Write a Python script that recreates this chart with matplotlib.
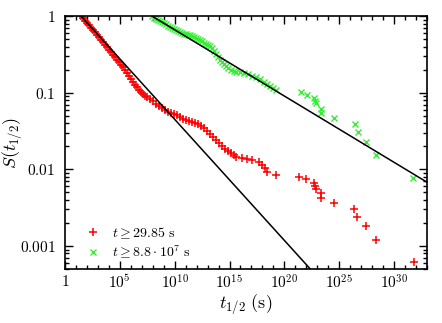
import numpy as np
import matplotlib.pyplot as plt
from matplotlib.ticker import FixedLocator, NullFormatter

plt.rcParams['mathtext.fontset'] = 'cm'
plt.rcParams['font.family'] = ['DejaVu Serif']

# --- data (log10 values) ---
log_t_red = [1.475, 1.636, 1.818, 2.0, 2.182, 2.364, 2.545, 2.727, 2.909, 3.091,
             3.273, 3.455, 3.636, 3.818, 4.0, 4.182, 4.364, 4.545, 4.727, 4.909,
             5.091, 5.273, 5.455, 5.636, 5.818, 6.0, 6.182, 6.364, 6.545, 6.727,
             6.909, 7.091, 7.273, 7.455, 7.727, 8.0, 8.273, 8.545, 8.818, 9.091,
             9.364, 9.636, 9.909, 10.182, 10.455, 10.727, 11.0, 11.273, 11.545, 11.818,
             12.091, 12.364, 12.636, 12.909, 13.182, 13.455, 13.727, 14.0, 14.273, 14.545,
             14.818, 15.091, 15.364, 15.636,
             16.182, 16.636, 17.091, 17.727, 18.0, 18.273, 18.455, 19.273, 21.364, 22.0,
             22.727, 22.818, 22.909, 23.364, 23.364, 24.545, 26.364, 26.636, 27.455, 28.364,
             31.818]
log_s_red = [0.0, -0.026, -0.065, -0.091, -0.117, -0.156, -0.183, -0.209, -0.248, -0.274,
             -0.313, -0.339, -0.378, -0.404, -0.443, -0.469, -0.508, -0.535, -0.574, -0.600,
             -0.639, -0.665, -0.704, -0.743, -0.782, -0.821, -0.861, -0.900, -0.926, -0.965,
             -0.991, -1.017, -1.043, -1.056, -1.082, -1.108, -1.147, -1.173, -1.199, -1.226,
             -1.252, -1.265, -1.278, -1.291, -1.317, -1.343, -1.356, -1.369, -1.382, -1.395,
             -1.408, -1.434, -1.460, -1.499, -1.538, -1.578, -1.617, -1.656, -1.695, -1.734,
             -1.760, -1.786, -1.812, -1.838,
             -1.851, -1.864, -1.877, -1.904, -1.943, -1.982, -2.034, -2.073, -2.099, -2.125,
             -2.177, -2.216, -2.256, -2.308, -2.373, -2.438, -2.516, -2.621, -2.738, -2.920,
             -3.207]

log_t_green = [7.944, 8.091, 8.273, 8.455, 8.636, 8.818, 9.0, 9.182, 9.364, 9.545,
               9.727, 9.909, 10.091, 10.273, 10.455, 10.636, 10.818, 11.0, 11.182, 11.364,
               11.545, 11.727, 11.909, 12.091, 12.273, 12.455, 12.636, 12.818, 13.0, 13.182,
               13.364, 13.545, 13.727, 13.909, 14.091, 14.273, 14.455, 14.636, 14.818, 15.091,
               15.364, 15.636, 16.0, 16.364, 16.727, 17.091, 17.455, 17.818, 18.182, 18.455,
               18.727, 19.0, 19.273,
               21.545, 22.091, 22.727, 22.818, 22.909, 23.364, 23.364, 24.545, 26.455, 26.727,
               27.455, 28.364, 31.727]
log_s_green = [0.0, -0.026, -0.039, -0.052, -0.065, -0.078, -0.091, -0.104, -0.130, -0.143,
               -0.156, -0.169, -0.183, -0.196, -0.209, -0.222, -0.235, -0.235, -0.248, -0.248,
               -0.261, -0.274, -0.287, -0.300, -0.313, -0.326, -0.352, -0.365, -0.378, -0.391,
               -0.417, -0.456, -0.495, -0.535, -0.574, -0.600, -0.626, -0.652, -0.678, -0.704,
               -0.717, -0.730, -0.730, -0.743, -0.756, -0.782, -0.795, -0.821, -0.861, -0.887,
               -0.913, -0.939, -0.965,
               -0.991, -1.030, -1.069, -1.108, -1.134, -1.213, -1.265, -1.330, -1.408, -1.512,
               -1.643, -1.812, -2.112]

# power-law fits S = (t / t0)^(-a)
fit_red = dict(t0=29.85, a=0.158)
fit_green = dict(t0=8.8e7, a=0.0865)

t_red = 10.0 ** np.array(log_t_red)
s_red = 10.0 ** np.array(log_s_red)
t_green = 10.0 ** np.array(log_t_green)
s_green = 10.0 ** np.array(log_s_green)

fig = plt.figure(figsize=(4.42, 3.23), dpi=100)
ax = fig.add_axes([0.147, 0.167, 0.819, 0.783])

ax.plot(t_red, s_red, '+', color='#ff0000', ms=6, mew=1.1,
        label=r'$t \geq 29.85\ \mathrm{s}$')
ax.plot(t_green, s_green, 'x', color='#33ee33', ms=5, mew=1.0,
        label=r'$t \geq 8.8 \cdot 10^7\ \mathrm{s}$')

tt = np.logspace(0, 34, 200)
for f in (fit_red, fit_green):
    tf = tt[tt >= f['t0']]
    ax.plot(tf, (tf / f['t0']) ** (-f['a']), color='black', lw=1.1)

ax.set_xscale('log')
ax.set_yscale('log')
ax.set_xlim(1, 1e33)
ax.set_ylim(5e-4, 1)

ax.xaxis.set_major_locator(FixedLocator([1, 1e5, 1e10, 1e15, 1e20, 1e25, 1e30]))
ax.set_xticklabels(['$1$', '$10^{5}$', '$10^{10}$', '$10^{15}$', '$10^{20}$',
                    '$10^{25}$', '$10^{30}$'])
ax.xaxis.set_minor_locator(FixedLocator(10.0 ** np.arange(0, 34)))
ax.xaxis.set_minor_formatter(NullFormatter())

ax.yaxis.set_major_locator(FixedLocator([1e-3, 1e-2, 1e-1, 1]))
ax.set_yticklabels(['$0.001$', '$0.01$', '$0.1$', '$1$'])
ymin = [m * 10.0 ** e for e in range(-4, 0) for m in range(2, 10)]
ax.yaxis.set_minor_locator(FixedLocator(ymin))
ax.yaxis.set_minor_formatter(NullFormatter())

ax.tick_params(which='both', direction='in', top=True, right=True, labelsize=11)
ax.tick_params(which='major', length=6, width=1)
ax.tick_params(which='minor', length=3, width=1)
ax.tick_params(axis='y', which='major', pad=7)
for s in ax.spines.values():
    s.set_linewidth(1.2)

ax.set_xlabel(r'$t_{1/2}\ (\mathrm{s})$', fontsize=13, labelpad=0)
ax.set_ylabel(r'$S(t_{1/2})$', fontsize=13)
ax.yaxis.set_label_coords(-0.113, 0.5)

ax.legend(loc='lower left', bbox_to_anchor=(0.03, 0.0), frameon=False,
          fontsize=10, handlelength=1.2, handletextpad=0.8, labelspacing=0.2,
          borderaxespad=0.2)

fig.savefig('out.png', dpi=100)
